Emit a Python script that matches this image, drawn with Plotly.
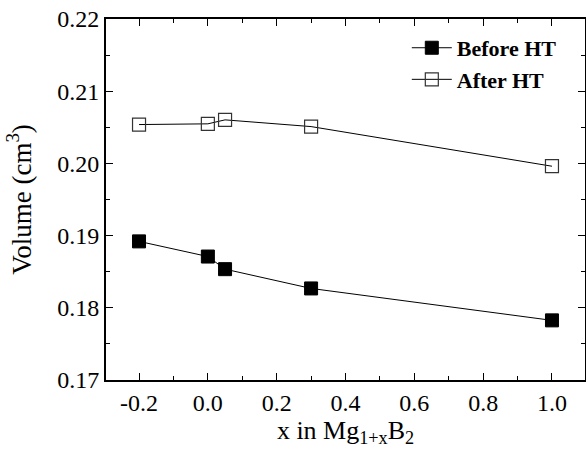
import plotly.graph_objects as go

x_vals = [-0.2, 0.0, 0.05, 0.3, 1.0]
before_ht = [0.1892, 0.1871, 0.18535, 0.18268, 0.17826]
after_ht = [0.20538, 0.20548, 0.20603, 0.2051, 0.19961]

font_family = "Liberation Serif"

fig = go.Figure()
fig.add_trace(go.Scatter(
    x=x_vals, y=before_ht, mode="lines+markers", name="<b>Before HT</b>",
    line=dict(color="black", width=1),
    marker=dict(symbol="square", size=13, color="black", line=dict(color="black", width=1)),
))
fig.add_trace(go.Scatter(
    x=x_vals, y=after_ht, mode="lines+markers", name="<b>After HT</b>",
    line=dict(color="black", width=1),
    marker=dict(symbol="square-open", size=13, color="#333333", line=dict(width=1.2)),
))

axis_common = dict(
    showline=True, linecolor="black", linewidth=2, mirror="allticks",
    ticks="inside", ticklen=7, tickwidth=1.3, tickcolor="black",
    showgrid=False, zeroline=False, automargin=False,
    tickfont=dict(family=font_family, size=24, color="black"),
)

fig.update_xaxes(
    range=[-0.296, 1.096], tickvals=[-0.2, 0.0, 0.2, 0.4, 0.6, 0.8, 1.0],
    ticktext=["-0.2", "0.0", "0.2", "0.4", "0.6", "0.8", "1.0"],
    minor=dict(dtick=0.1, tick0=0, ticks="inside", ticklen=4, tickcolor="black", tickwidth=1),
    title=dict(text="x in Mg<sub>1+x</sub>B<sub>2</sub>", font=dict(family=font_family, size=26, color="black"), standoff=6),
    **axis_common,
)
fig.update_yaxes(
    range=[0.17, 0.22], tickvals=[0.17, 0.18, 0.19, 0.20, 0.21, 0.22],
    ticktext=["0.17", "0.18", "0.19", "0.20", "0.21", "0.22"],
    minor=dict(dtick=0.005, tick0=0.17, ticks="inside", ticklen=4, tickcolor="black", tickwidth=1),
    title=dict(text="Volume (cm<sup>3</sup>)", font=dict(family=font_family, size=27, color="black"), standoff=18),
    **axis_common,
)

fig.update_layout(
    width=586, height=455,
    margin=dict(l=106, r=1, t=19, b=75, autoexpand=False),
    paper_bgcolor="white", plot_bgcolor="white",
    showlegend=True,
    legend=dict(x=0.628, y=0.978, xanchor="left", yanchor="top",
                bgcolor="rgba(0,0,0,0)", font=dict(family=font_family, size=22, color="black"),
                itemwidth=40, tracegroupgap=0),
    font=dict(family=font_family, color="black"),
)

fig.write_html(
    "out.html",
    config={"displayModeBar": False},
    post_script="document.body.style.margin='0';document.body.style.overflow='hidden';",
)
